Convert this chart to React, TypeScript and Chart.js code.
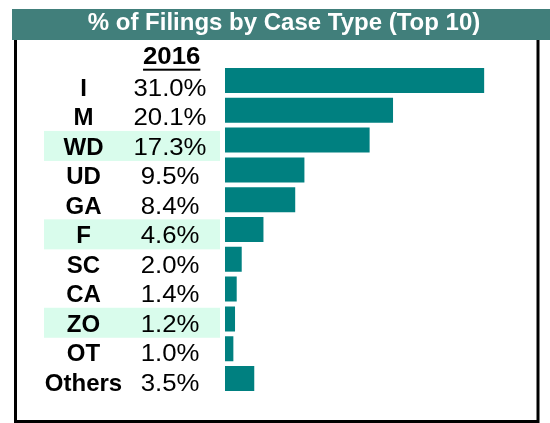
import React, { useEffect, useRef } from "react";
import { Chart, registerables } from "chart.js";

Chart.register(...registerables);

const TITLE = "% of Filings by Case Type (Top 10)";
const YEAR_LABEL = "2016";
const categories = ["I", "M", "WD", "UD", "GA", "F", "SC", "CA", "ZO", "OT", "Others"];
const values2016 = [31.0, 20.1, 17.3, 9.5, 8.4, 4.6, 2.0, 1.4, 1.2, 1.0, 3.5];
const highlighted = ["WD", "F", "ZO"];

const W = 550;
const H = 423;
const FONT = "'Liberation Sans', Arial, Helvetica, sans-serif";

const tablePlugin = {
  id: "tablePlugin",
  beforeDraw(chart: any) {
    const ctx = chart.ctx;
    const y = chart.scales.y;
    ctx.save();
    ctx.fillStyle = "#ffffff";
    ctx.fillRect(0, 0, W, H);
    // border
    ctx.strokeStyle = "#000000";
    ctx.lineWidth = 3;
    ctx.strokeRect(15.5, 38, 522.5, 383.5);
    // title bar
    ctx.fillStyle = "#417f7b";
    ctx.fillRect(12, 9, 538, 31);
    ctx.fillStyle = "#ffffff";
    ctx.font = `bold 24px ${FONT}`;
    ctx.textAlign = "center";
    ctx.textBaseline = "alphabetic";
    ctx.fillText(TITLE, 284, 30);
    // highlights
    ctx.fillStyle = "#d9fcec";
    categories.forEach((c, i) => {
      if (!highlighted.includes(c)) return;
      const base = y.getPixelForValue(i) + 15.5 - 0.33 * i;
      ctx.fillRect(44, base - 24, 176, 30);
    });
    ctx.restore();
  },
  afterDraw(chart: any) {
    const ctx = chart.ctx;
    const y = chart.scales.y;
    ctx.save();
    ctx.fillStyle = "#000000";
    ctx.textBaseline = "alphabetic";
    ctx.textAlign = "center";
    // header
    ctx.font = `bold 23px ${FONT}`;
    ctx.save();
    ctx.translate(171.7, 63.7);
    ctx.scale(1.12, 1);
    ctx.fillText(YEAR_LABEL, 0, 0);
    const hw = ctx.measureText(YEAR_LABEL).width;
    ctx.restore();
    const uw = hw * 1.12;
    ctx.fillRect(171.7 - uw / 2, 68.7, uw, 2);
    categories.forEach((c, i) => {
      const base = y.getPixelForValue(i) + 15.5 - 0.33 * i;
      ctx.font = `bold 24px ${FONT}`;
      ctx.fillText(c, 83.5, base);
      ctx.font = `23px ${FONT}`;
      ctx.save();
      ctx.translate(170, base);
      ctx.scale(1.12, 1);
      ctx.fillText(values2016[i].toFixed(1) + "%", 0, 0);
      ctx.restore();
    });
    ctx.restore();
  },
};

export default function App() {
  const ref = useRef<HTMLCanvasElement | null>(null);
  useEffect(() => {
    if (!ref.current) return;
    const chart = new Chart(ref.current, {
      type: "bar",
      data: {
        labels: categories,
        datasets: [
          {
            label: YEAR_LABEL,
            data: values2016,
            backgroundColor: "#008080",
            borderWidth: 0,
            barPercentage: 0.839,
            categoryPercentage: 1,
          },
        ],
      },
      options: {
        indexAxis: "y",
        animation: false,
        responsive: false,
        devicePixelRatio: 1,
        layout: { padding: { left: 225, right: 32.4, top: 65.6, bottom: 29.6 } },
        scales: {
          x: { min: 0, max: 35, display: false },
          y: { display: false },
        },
        plugins: {
          legend: { display: false },
          title: { display: false },
          tooltip: { enabled: false },
        },
      },
      plugins: [tablePlugin],
    });
    return () => chart.destroy();
  }, []);
  return (
    <div style={{ position: "absolute", left: 0, top: 0, width: W, height: H }}>
      <canvas ref={ref} width={W} height={H} style={{ width: W, height: H, display: "block" }} />
    </div>
  );
}
